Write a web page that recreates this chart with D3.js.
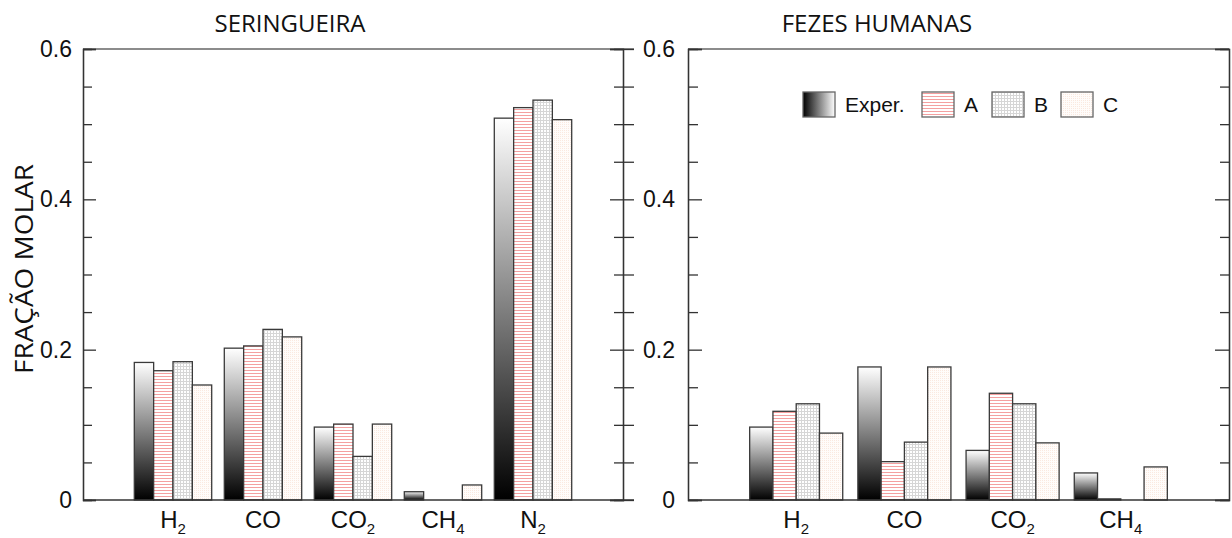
<!DOCTYPE html>
<html>
<head>
<meta charset="utf-8">
<script src="https://cdn.jsdelivr.net/npm/d3@7"></script>
<style>
  body { margin: 0; background: #fff; }
  svg { display: block; }
  .tick-lbl { font-family: "Liberation Sans", Arial, sans-serif; font-size: 23px; fill: #111; }
  .cat { font-family: "Liberation Sans", Arial, sans-serif; font-size: 24px; fill: #111; }
  .ttl { font-family: "Open Sans", sans-serif; font-size: 24px; fill: #111; }
  .ylab { font-family: "Open Sans", sans-serif; font-size: 26px; fill: #111; }
  .leg { font-family: "Liberation Sans", Arial, sans-serif; font-size: 21px; fill: #111; }
</style>
</head>
<body>
<script>
// series names (legend)
var series = ["Exper.", "A", "B", "C"];
var yTicks = [0, 0.2, 0.4, 0.6];
var yMinor = [0.05, 0.1, 0.15, 0.25, 0.3, 0.35, 0.45, 0.5, 0.55];

// SERINGUEIRA panel
var catsLeft = [["H", "2"], ["CO", ""], ["CO", "2"], ["CH", "4"], ["N", "2"]];
var experLeft = [0.183, 0.202, 0.097, 0.011, 0.508];
var aLeft     = [0.172, 0.205, 0.101, 0,     0.522];
var bLeft     = [0.184, 0.227, 0.058, 0,     0.532];
var cLeft     = [0.153, 0.217, 0.101, 0.020, 0.506];

// FEZES HUMANAS panel
var catsRight = [["H", "2"], ["CO", ""], ["CO", "2"], ["CH", "4"]];
var experRight = [0.097, 0.177, 0.066, 0.036];
var aRight     = [0.118, 0.051, 0.142, 0.0015];
var bRight     = [0.128, 0.077, 0.128, 0];
var cRight     = [0.089, 0.177, 0.076, 0.044];

var W = 1232, H = 538;
var svg = d3.select("body").append("svg").attr("width", W).attr("height", H);
var defs = svg.append("defs");

// fills
var grad = defs.append("linearGradient").attr("id", "gExp")
  .attr("x1", 0).attr("y1", 1).attr("x2", 0).attr("y2", 0);
grad.append("stop").attr("offset", "0%").attr("stop-color", "#000");
grad.append("stop").attr("offset", "100%").attr("stop-color", "#fff");
var gradH = defs.append("linearGradient").attr("id", "gExpH")
  .attr("x1", 0).attr("y1", 0).attr("x2", 1).attr("y2", 0);
gradH.append("stop").attr("offset", "0%").attr("stop-color", "#000");
gradH.append("stop").attr("offset", "100%").attr("stop-color", "#fff");

var pA = defs.append("pattern").attr("id", "pA").attr("patternUnits", "userSpaceOnUse")
  .attr("width", 4).attr("height", 3);
pA.append("rect").attr("width", 4).attr("height", 3).attr("fill", "#fff");
pA.append("rect").attr("y", 1).attr("width", 4).attr("height", 1).attr("fill", "#f4a0a0");

var pB = defs.append("pattern").attr("id", "pB").attr("patternUnits", "userSpaceOnUse")
  .attr("width", 3).attr("height", 3);
pB.append("rect").attr("width", 3).attr("height", 3).attr("fill", "#fff");
pB.append("rect").attr("width", 3).attr("height", 1).attr("fill", "#d6d6d6");
pB.append("rect").attr("width", 1).attr("height", 3).attr("fill", "#d6d6d6");

var pC = defs.append("pattern").attr("id", "pC").attr("patternUnits", "userSpaceOnUse")
  .attr("width", 2).attr("height", 2);
pC.append("rect").attr("width", 2).attr("height", 2).attr("fill", "#fffcfa");
pC.append("rect").attr("width", 1).attr("height", 1).attr("fill", "#fae9e0");

var fills = ["url(#gExp)", "url(#pA)", "url(#pB)", "url(#pC)"];
var legFills = ["url(#gExpH)", "url(#pA)", "url(#pB)", "url(#pC)"];

var y = d3.scaleLinear().domain([0, 0.6]).range([500, 49]);
var axisCol = "#333";

function drawPanel(cfg) {
  var g = svg.append("g");
  var n = cfg.cats.length;
  var x = d3.scaleLinear().domain([0, n + 1]).range([cfg.x0, cfg.x1]);
  var slot = x(1) - x(0);
  var inner = d3.scaleBand().domain(d3.range(4)).range([-0.43 * slot, 0.43 * slot]);

  var rows = [];
  cfg.cats.forEach(function(c, i) {
    cfg.values.forEach(function(vals, s) {
      if (vals[i] > 0) rows.push({ i: i, s: s, v: vals[i] });
    });
  });

  g.selectAll("rect.bar").data(rows).enter().append("rect")
    .attr("class", "bar")
    .attr("x", function(d) { return x(d.i + 1) + inner(d.s); })
    .attr("width", inner.bandwidth())
    .attr("y", function(d) { return y(d.v); })
    .attr("height", function(d) { return y(0) - y(d.v); })
    .attr("fill", function(d) { return fills[d.s]; })
    .attr("stroke", "#3a3a3a")
    .attr("stroke-width", 1.3);

  // frame lines
  g.append("line").attr("x1", cfg.x0).attr("x2", cfg.x1 + cfg.over)
    .attr("y1", y(0)).attr("y2", y(0)).attr("stroke", axisCol).attr("stroke-width", 1.3);
  g.append("line").attr("x1", cfg.x0).attr("x2", cfg.x1 + cfg.over)
    .attr("y1", y(0.6)).attr("y2", y(0.6)).attr("stroke", "#666").attr("stroke-width", 1.3);

  // left axis, ticks inward
  var la = g.append("g").attr("transform", "translate(" + cfg.x0 + ",0)");
  la.call(d3.axisRight(y).tickValues(yMinor).tickSize(cfg.minL).tickFormat(""));
  la.append("g").call(d3.axisRight(y).tickValues(yTicks).tickSize(cfg.majL).tickFormat(""));
  la.selectAll("path").attr("stroke", axisCol).attr("stroke-width", 1.3);
  la.selectAll("line").attr("stroke", axisCol).attr("stroke-width", 1.3);

  var lbl = g.append("g").attr("transform", "translate(" + cfg.x0 + ",0)")
    .call(d3.axisLeft(y).tickValues(yTicks).tickSize(0).tickPadding(cfg.pad)
      .tickFormat(function(d) { return d === 0 ? "0" : d3.format(".1f")(d); }));
  lbl.select(".domain").remove();
  lbl.selectAll("text").attr("class", "tick-lbl").attr("font-family", null).attr("font-size", null);

  // right axis
  var ra = g.append("g").attr("transform", "translate(" + cfg.x1 + ",0)");
  ra.call(d3.axisLeft(y).tickValues(yMinor).tickSize(cfg.minR).tickFormat(""));
  ra.append("g").call(d3.axisLeft(y).tickValues(yTicks).tickSize(cfg.majR).tickFormat(""));
  if (cfg.over) {
    ra.append("g").call(d3.axisRight(y).tickValues(yMinor.concat(yTicks)).tickSize(cfg.over).tickFormat(""))
      .select(".domain").remove();
  }
  ra.selectAll("path").attr("stroke", axisCol).attr("stroke-width", 1.3);
  ra.selectAll("line").attr("stroke", axisCol).attr("stroke-width", 1.3);

  // category labels with subscripts
  var cl = g.selectAll("text.cat").data(cfg.cats).enter().append("text")
    .attr("class", "cat")
    .attr("x", function(d, i) { return x(i + 1); })
    .attr("y", 528)
    .attr("text-anchor", "middle");
  cl.append("tspan").text(function(d) { return d[0]; });
  cl.append("tspan").attr("dy", 6).style("font-size", "15px").text(function(d) { return d[1]; });

  g.append("text").attr("class", "ttl").attr("x", cfg.tx).attr("y", 32)
    .attr("text-anchor", "middle")
    .text(cfg.title);
  return x;
}

drawPanel({ cats: catsLeft, values: [experLeft, aLeft, bLeft, cLeft],
  x0: 83, x1: 623, over: 11, minL: 9, majL: 13, minR: 9, majR: 13, pad: 11,
  title: "SERINGUEIRA", tx: 290 });
drawPanel({ cats: catsRight, values: [experRight, aRight, bRight, cRight],
  x0: 688, x1: 1229, over: 0, minL: 10, majL: 14, minR: 9, majR: 14, pad: 13,
  title: "FEZES HUMANAS", tx: 877 });

// y label
svg.append("text").attr("class", "ylab")
  .attr("transform", "translate(33,269) rotate(-90)")
  .attr("text-anchor", "middle")
  .attr("textLength", 210).attr("lengthAdjust", "spacingAndGlyphs")
  .text("FRAÇÃO MOLAR");

// legend
var legX = [803, 922, 992, 1061];
var leg = svg.append("g").selectAll("g").data(series).enter().append("g")
  .attr("transform", function(d, i) { return "translate(" + legX[i] + ",92)"; });
leg.append("rect").attr("width", 32).attr("height", 25)
  .attr("fill", function(d, i) { return legFills[i]; })
  .attr("stroke", "#666").attr("stroke-width", 1.3);
leg.append("text").attr("class", "leg").attr("x", 42).attr("y", 20).text(function(d) { return d; });
</script>
</body>
</html>
